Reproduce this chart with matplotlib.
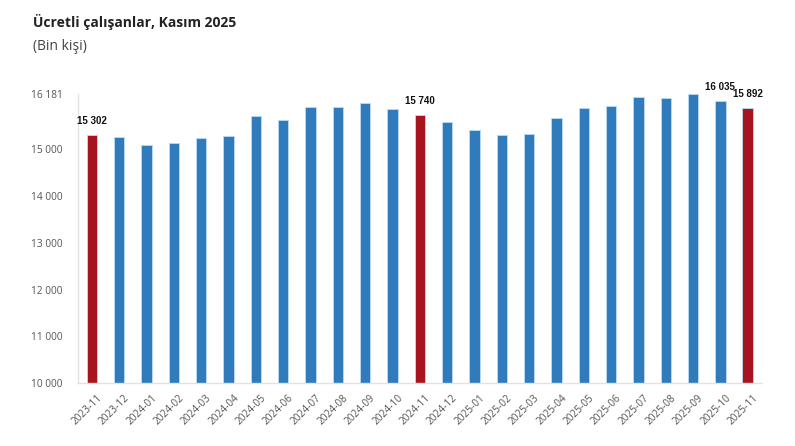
import numpy as np
import matplotlib
matplotlib.use("Agg")
import matplotlib.pyplot as plt
import matplotlib.transforms as mtransforms

# Ücretli çalışanlar (bin kişi)
months = ["2023-11", "2023-12", "2024-01", "2024-02", "2024-03", "2024-04",
          "2024-05", "2024-06", "2024-07", "2024-08", "2024-09", "2024-10",
          "2024-11", "2024-12", "2025-01", "2025-02", "2025-03", "2025-04",
          "2025-05", "2025-06", "2025-07", "2025-08", "2025-09", "2025-10",
          "2025-11"]
values = [15302, 15255, 15083, 15133, 15233, 15289,
          15711, 15619, 15910, 15910, 15996, 15861,
          15740, 15582, 15411, 15304, 15325, 15662,
          15889, 15932, 16118, 16090, 16181, 16035,
          15892]
highlight = ["2023-11", "2024-11", "2025-11"]
labelled = ["2023-11", "2024-11", "2025-10", "2025-11"]
yticks = [10000, 11000, 12000, 13000, 14000, 15000, 16181]

blue = "#2f7bbb"
red = "#a8141e"

plt.rcParams['font.family'] = ['Open Sans', 'DejaVu Sans']

fig = plt.figure(figsize=(7.95, 4.46), dpi=100)
ax = fig.add_axes([0.098, 0.141, 0.86, 0.648])

x = np.arange(len(months))
colors = [red if m in highlight else blue for m in months]
ax.bar(x, values, width=0.38, bottom=0, color=colors,
       edgecolor="#bcdcf2", linewidth=0.6)

for i, m in enumerate(months):
    if m in labelled:
        ax.annotate(f"{values[i]:,}".replace(",", " "), (x[i], values[i]),
                    xytext=(0, 10), textcoords="offset points",
                    ha="center", va="center", fontsize=7,
                    fontweight="bold", family=["Liberation Sans", "DejaVu Sans"],
                    color="#111111")

ax.set_ylim(10000, 16181)
ax.set_xlim(-0.51, len(months) - 0.49)
ax.set_yticks(yticks)
ax.set_yticklabels([f"{v:,}".replace(",", " ") for v in yticks])
ax.set_xticks(x)
ax.set_xticklabels(months, rotation=45, ha="right", rotation_mode="anchor")
ax.tick_params(axis="both", length=0, labelsize=7.3, colors="#555555")
ax.tick_params(axis="y", pad=11)
ax.tick_params(axis="x", pad=7)

# nudge the rotated month labels a bit to the right
shift = mtransforms.ScaledTranslation(0.05, 0, fig.dpi_scale_trans)
for lbl in ax.get_xticklabels():
    lbl.set_transform(lbl.get_transform() + shift)

for s in ["top", "right"]:
    ax.spines[s].set_visible(False)
for s in ["left", "bottom"]:
    ax.spines[s].set_color("#e2e2e2")
    ax.spines[s].set_linewidth(1.0)

fig.text(0.041, 0.95, "Ücretli çalışanlar, Kasım 2025", fontsize=10,
         fontweight="bold", color="#222222", va="center")
fig.text(0.041, 0.895, "(Bin kişi)", fontsize=10, color="#444444", va="center")

fig.savefig("out.png", dpi=100)
